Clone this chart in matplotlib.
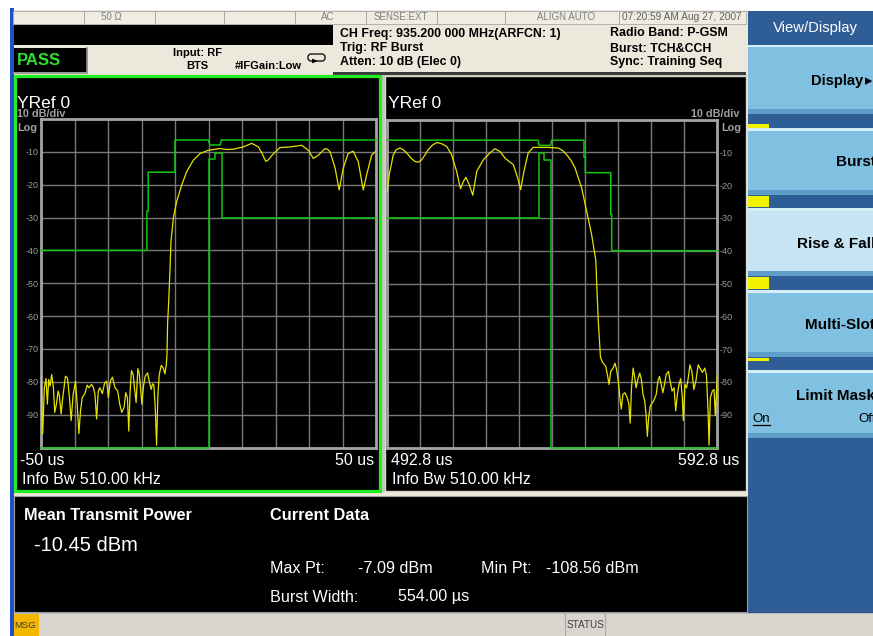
import matplotlib
matplotlib.use("Agg")
import matplotlib.pyplot as plt
from matplotlib.patches import Rectangle, FancyBboxPatch
import numpy as np

plt.rcParams["font.family"] = ["Liberation Sans", "DejaVu Sans"]

W, H = 873, 636

# ---- trace data (time in us, level in dB) ----
left_t = [-50.0, -49.5, -49.0, -48.5, -48.1, -47.7, -47.3, -46.8, -46.3, -45.9,
          -45.4, -44.9, -44.5, -44.0, -43.5, -42.7, -42.1, -41.5, -41.0, -40.4,
          -39.7, -39.2, -38.7, -38.2, -37.7, -36.9, -36.2, -35.7, -34.9, -34.4,
          -33.9, -33.4, -32.9, -32.4, -31.7, -31.0, -30.4, -29.9, -29.3, -28.7,
          -27.9, -27.1, -26.5, -25.9, -25.2, -24.7, -24.2, -23.8, -23.4, -23.0,
          -22.5, -22.0, -21.6, -21.1, -20.7, -20.3, -19.9, -19.4, -18.9, -18.2,
          -17.7, -17.1, -16.7, -16.3, -15.9, -15.5, -15.1, -14.7, -14.1, -13.5,
          -13.0, -12.6, -12.4, -12.2, -11.9, -11.5, -11.2, -10.5, -9.5, -8.0,
          -6.5, -4.5, -2.5, 0.0, 3.4, 5.5, 7.4, 10.4, 12.9, 14.9,
          16.0, 17.1, 17.8, 18.9, 21.3, 24.3, 27.8, 29.8, 31.3, 32.8,
          34.8, 35.5, 36.3, 37.8, 39.0, 40.2, 41.7, 43.2, 44.7, 46.2,
          47.2, 48.7, 50.0]
left_db = [-78.3, -95.8, -81.8, -79.0, -86.8, -79.3, -81.3, -77.8, -81.8, -89.3,
           -86.8, -82.8, -84.3, -89.8, -84.8, -78.3, -78.8, -84.8, -91.8, -83.8,
           -79.8, -86.8, -95.8, -88.8, -84.8, -83.6, -81.0, -81.8, -80.8, -81.6,
           -83.8, -91.3, -82.8, -81.8, -83.6, -80.3, -79.8, -84.8, -79.8, -78.6,
           -81.8, -82.8, -86.8, -89.3, -87.8, -83.3, -84.8, -95.0, -82.8, -76.6,
           -77.8, -82.8, -86.3, -76.0, -77.3, -81.8, -86.8, -81.3, -78.3, -77.3,
           -79.8, -82.3, -80.6, -81.0, -87.8, -99.3, -83.8, -77.8, -75.0, -75.8,
           -77.6, -74.8, -72.0, -62.0, -56.0, -46.0, -37.3, -30.2, -25.1, -20.1,
           -16.0, -12.5, -10.5, -9.5, -9.0, -9.3, -9.2, -8.5, -7.4, -8.5,
           -10.5, -12.9, -12.5, -11.1, -8.7, -8.5, -8.0, -9.5, -12.0, -11.0,
           -9.0, -9.2, -10.0, -15.0, -21.6, -15.0, -10.5, -9.8, -13.0, -21.6,
           -17.0, -11.0, -9.8]

right_t = [492.8, 493.4, 494.6, 495.5, 496.6, 497.6, 498.7, 500.0, 501.2, 502.2,
           503.2, 504.2, 505.2, 506.5, 507.8, 509.3, 510.8, 512.3, 513.8, 515.0,
           515.8, 516.6, 517.6, 518.7, 519.9, 521.9, 523.6, 525.4, 527.0, 528.5,
           531.0, 532.3, 533.2, 534.2, 535.5, 537.0, 539.0, 541.1, 543.0, 544.6,
           546.0, 547.2, 548.5, 549.7, 551.7, 553.2, 554.7, 556.0, 556.2, 556.7,
           557.4, 558.0, 559.0, 559.5, 560.0, 560.5, 561.2, 561.8, 562.3, 562.8,
           563.3, 563.7, 564.2, 564.8, 565.5, 566.0, 566.4, 566.8, 567.3, 567.8,
           568.2, 568.7, 569.3, 569.8, 570.3, 570.8, 571.2, 571.6, 572.0, 572.5,
           573.5, 574.3, 574.8, 575.3, 575.8, 576.3, 576.8, 577.3, 578.0, 578.5,
           579.1, 579.7, 580.2, 580.7, 581.2, 581.7, 582.2, 582.5, 583.0, 583.5,
           584.0, 584.5, 585.1, 585.7, 586.3, 587.0, 587.7, 588.3, 589.0, 589.5,
           590.0, 590.3, 590.7, 591.3, 591.8, 592.2, 592.8]
right_db = [-21.9, -16.8, -10.8, -9.2, -8.7, -9.2, -10.2, -11.8, -12.8, -13.0,
            -12.3, -10.8, -9.2, -7.8, -7.0, -7.4, -8.2, -10.8, -15.8, -21.1,
            -19.0, -17.6, -19.8, -23.1, -15.8, -12.3, -10.5, -8.9, -9.8, -11.8,
            -13.8, -17.8, -21.4, -15.8, -10.2, -8.5, -8.5, -8.5, -8.6, -8.7,
            -9.5, -10.8, -12.5, -14.8, -20.9, -27.9, -35.0, -43.0, -48.6, -60.8,
            -72.5, -74.0, -75.3, -77.8, -80.8, -76.8, -75.8, -74.3, -76.3, -79.8,
            -84.8, -88.3, -83.8, -83.3, -84.8, -86.8, -92.6, -81.8, -75.8, -78.8,
            -81.8, -79.3, -77.3, -79.3, -83.8, -85.8, -89.8, -96.6, -90.8, -87.3,
            -85.8, -83.8, -79.8, -78.3, -80.8, -83.3, -80.8, -77.8, -76.8, -79.8,
            -82.8, -81.8, -88.8, -83.8, -80.8, -79.0, -84.8, -91.8, -80.8, -81.8,
            -78.8, -74.8, -76.8, -82.3, -79.8, -74.8, -76.1, -77.1, -75.8, -77.8,
            -88.8, -99.3, -84.8, -82.8, -82.3, -90.3, -77.8]

# ---- limit masks ----
left_upper_t = [-50.0, -18.4, -18.4, -18.0, -18.0, -10.0, -10.0, 0.0, 0.4, 3.5, 3.8, 50.0]
left_upper_db = [-40.0, -40.0, -28.0, -28.0, -16.2, -16.2, -6.4, -6.4, -7.9, -7.9, -6.4, -6.4]
left_lower_t = [-50.0, 0.0, 0.0, 1.8, 1.8, 3.9, 3.9, 50.0]
left_lower_db = [-100.0, -100.0, -12.3, -12.3, -10.2, -10.2, -30.0, -30.0]

right_upper_t = [492.8, 538.5, 538.8, 542.3, 542.6, 552.4, 552.4, 552.8, 552.8,
                 560.5, 560.5, 560.8, 560.8, 592.8]
right_upper_db = [-6.3, -6.3, -7.9, -7.9, -6.3, -6.3, -11.5, -11.5, -16.2,
                  -16.2, -29.0, -29.0, -40.0, -40.0]
right_lower_t = [492.8, 538.7, 538.7, 540.2, 540.2, 542.4, 542.4, 592.8]
right_lower_db = [-30.0, -30.0, -10.1, -10.1, -12.3, -12.3, -100.0, -100.0]

y_levels = [-10, -20, -30, -40, -50, -60, -70, -80, -90]

BEIGE = "#ECE9DC"
YEL = "#E6E200"
MASK = "#10C810"

fig = plt.figure(figsize=(W / 100, H / 100), dpi=100, facecolor="white")
bg = fig.add_axes([0, 0, 1, 1])
bg.set_xlim(0, W)
bg.set_ylim(H, 0)
bg.axis("off")


def box(x0, y0, x1, y1, fc, ec="none", lw=0, z=1):
    bg.add_patch(Rectangle((x0, y0), x1 - x0, y1 - y0, facecolor=fc,
                           edgecolor=ec, linewidth=lw, zorder=z))


def label(x, y, s, size=8, color="black", weight="normal", ha="left", **kw):
    bg.text(x, y, s, fontsize=size, color=color, fontweight=weight, ha=ha,
            va="baseline", zorder=10, **kw)


# frame pieces
box(13, 10, 748, 636, BEIGE)
box(9.5, 8, 13.5, 636, "#2050C8")
# top status row
box(13, 11, 746, 24, "#EFECE2", ec="#A8A8A8", lw=0.6)
for sx in [84, 155, 224, 295, 366, 437, 505, 619]:
    bg.plot([sx, sx], [11, 24], color="#A8A8A8", lw=0.7, zorder=2)
label(111, 20.5, "50 \u03a9", 7, "#808080", ha="center")
label(334, 20.5, "AC", 7, "#808080", ha="right")
label(401, 20.5, "SENSE:EXT", 7, "#808080", ha="center")
label(566, 20.5, "ALIGN AUTO", 7, "#808080", ha="center")
label(681.5, 20.5, "07:20:59 AM Aug 27, 2007", 7.3, "#606060", ha="center")
# black message bar and PASS box
box(13.5, 25, 333, 45, "black")
box(13.5, 47.5, 87, 72, "black", z=2)
bg.plot([13.5, 87, 87], [72.5, 72.5, 47.5], color="#8C8C8C", lw=1.2, zorder=3)
label(16.5, 65, "PASS", 12, "#30E030", "bold")
label(197.5, 56, "Input: RF", 8, weight="bold", ha="center")
label(197.5, 69, "BTS", 8, weight="bold", ha="center")
label(235, 69, "#IFGain:Low", 8, weight="bold")
bg.add_patch(FancyBboxPatch((308, 54), 17, 7, boxstyle="round,pad=0,rounding_size=3",
                            facecolor="none", edgecolor="black", lw=0.9, zorder=3))
bg.annotate("", xy=(320, 61), xytext=(312, 61),
            arrowprops=dict(arrowstyle="-|>", lw=0.8, color="black", mutation_scale=6))
label(339.5, 36.5, "CH Freq: 935.200 000 MHz(ARFCN: 1)", 8.9, weight="bold")
label(339.5, 51, "Trig: RF Burst", 8.9, weight="bold")
label(339.5, 65, "Atten: 10 dB (Elec 0)", 8.9, weight="bold")
label(610, 36.5, "Radio Band: P-GSM", 8.9, weight="bold")
label(610, 51.5, "Burst: TCH&CCH", 8.9, weight="bold")
label(610, 65, "Sync: Training Seq", 8.9, weight="bold")
box(333, 72, 746, 75, "#3A3A3A")

# plot panels
box(13.5, 75, 746.5, 492, "#C8C4B8")
box(14.5, 76, 379.5, 490.5, "black", ec="#22EE22", lw=2.3, z=2)
box(384.5, 76, 746, 491, "black", ec="#D8D5CC", lw=1.0, z=2)

# info panel and status bar
box(13.5, 496, 747, 612, "black", ec="#A0A0A0", lw=0.8)
box(13.5, 612.5, 873, 636, "#D9D6CF", ec="#B0B0B0", lw=0.6)
box(13.5, 614, 38.5, 636, "#F4B800")
label(14, 628, "MSG", 6.8, "#404040")
for sx in [565, 605]:
    bg.plot([sx, sx], [614, 636], color="#A8A8A8", lw=0.8, zorder=3)
label(567, 628.5, "STATUS", 7.2, "#404040")

label(24, 520, "Mean Transmit Power", 11.8, "white", "bold")
label(34.5, 551, "-10.45 dBm", 14.5, "white")
label(270, 519.5, "Current Data", 11.8, "white", "bold")
label(270, 573, "Max Pt:", 11.6, "white")
label(358.5, 573, "-7.09 dBm", 11.6, "white")
label(481, 573, "Min Pt:", 11.6, "white")
label(545.5, 573, "-108.56 dBm", 11.6, "white")
label(270, 601.5, "Burst Width:", 11.6, "white")
label(397.5, 601.5, "554.00 \u00b5s", 11.6, "white")

# softkey column
box(748, 11, 873, 612.5, "#2F5E97")
label(815, 31.6, "View/Display", 10.7, "white", ha="center")
keys = [(44.5, 113.5, "#80C0E0"), (128, 195, "#80C0E0"), (208, 276, "#C6E4F4"),
        (290, 357, "#80C0E0"), (370, 438, "#80C0E0")]
for ky0, ky1, kc in keys:
    box(748, ky0, 873, ky1, kc, z=2)
    box(748, ky0, 873, ky0 + 2.5, "#D6EEF8", z=3)
    box(748, ky1 - 5, 873, ky1, "#5E9EC8", z=3)
for iy0, iy1 in [(123.5, 127.5), (195.5, 207), (277, 289), (358, 361)]:
    box(748, iy0, 768.5, iy1, "#F2F200", z=3)
label(811.5, 85.5, "Display", 10.6, weight="bold")
label(864.5, 85, "\u25b8", 10.5, family=["DejaVu Sans"])
label(836, 166, "Burst", 11, weight="bold")
label(796.7, 247.5, "Rise & Fall", 11, weight="bold")
label(805, 328.6, "Multi-Slot", 11, weight="bold")
label(796, 399.6, "Limit Mask", 11, weight="bold")
label(752.7, 422, "On", 9.5)
bg.plot([752.7, 770], [424.5, 424.5], color="black", lw=0.9, zorder=10)
label(858.3, 422, "Off", 9.5)


def style(ax, t0, side):
    ax.set_facecolor("black")
    ax.set_xlim(t0, t0 + 100)
    ax.set_ylim(-100, 0)
    ax.set_xticks(np.arange(t0, t0 + 100.1, 10))
    ax.set_yticks(y_levels)
    ax.set_yticklabels([str(v) for v in y_levels])
    ax.tick_params(length=0, labelbottom=False, labelsize=6.5,
                   labelcolor="#9C9C9C", pad=1.6)
    if side == "right":
        ax.yaxis.tick_right()
    ax.grid(color="#787878", lw=1.0)
    for sp in ax.spines.values():
        sp.set_color("#A4A4A4")
        sp.set_linewidth(2.0)


ax_l = fig.add_axes([41 / W, 1 - 447.5 / H, 335 / W, 328.5 / H])
ax_r = fig.add_axes([387.3 / W, 1 - 447.5 / H, 330 / W, 328 / H])
style(ax_l, -50.0, "left")
style(ax_r, 492.8, "right")

ax_l.plot(left_upper_t, left_upper_db, color=MASK, lw=1.1, clip_on=False, zorder=4)
ax_l.plot(left_lower_t, left_lower_db, color=MASK, lw=1.1, clip_on=False, zorder=4)
ax_l.plot(left_t, left_db, color=YEL, lw=0.9, zorder=5)
ax_r.plot(right_upper_t, right_upper_db, color=MASK, lw=1.1, clip_on=False, zorder=4)
ax_r.plot(right_lower_t, right_lower_db, color=MASK, lw=1.1, clip_on=False, zorder=4)
ax_r.plot(right_t, right_db, color=YEL, lw=0.9, zorder=5)

# panel annotations
label(17, 108.3, "YRef 0", 12.5, "white")
label(17, 116.7, "10 dB/div", 7.8, "#A0A0A0", "bold")
label(17.5, 131, "Log", 7.8, "#A0A0A0", "bold")
label(20.5, 465, "-50 us", 11.5, "white")
label(374, 465, "50 us", 11.5, "white", ha="right")
label(21.5, 484.3, "Info Bw 510.00 kHz", 11.5, "white")

label(387.5, 107.7, "YRef 0", 12.5, "white")
label(739.5, 116.7, "10 dB/div", 7.8, "#A0A0A0", "bold", ha="right")
label(741.5, 131, "Log", 7.8, "#A0A0A0", "bold", ha="right")
label(391, 465, "492.8 us", 11.5, "white")
label(739.5, 465, "592.8 us", 11.5, "white", ha="right")
label(391.5, 484.3, "Info Bw 510.00 kHz", 11.5, "white")

fig.savefig("out.png", dpi=100)
